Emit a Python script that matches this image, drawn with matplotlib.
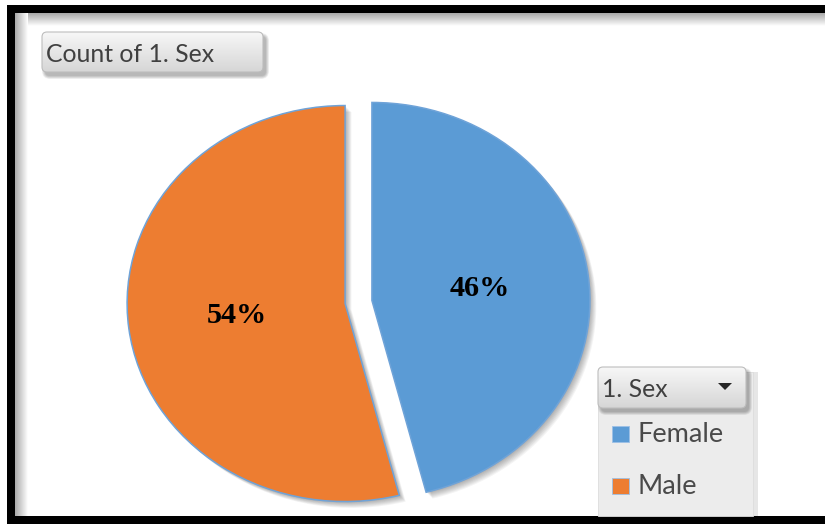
import numpy as np
import matplotlib
matplotlib.use("Agg")
import matplotlib.pyplot as plt
import matplotlib.colors as mcolors
import matplotlib.transforms as mtransforms
from matplotlib.patches import FancyBboxPatch, Rectangle, Polygon, Wedge

# pivot chart data
sexes = ["Female", "Male"]
counts = [46, 54]
slice_colors = ["#5B9BD5", "#ED7D31"]
chart_title = "Count of 1. Sex"
field_name = "1. Sex"

W, H = 825, 524
UI_FONT = "Lato"
TEXT_GREY = "#404040"

fig = plt.figure(figsize=(W / 100, H / 100), dpi=100)
fig.patch.set_facecolor("white")

# background layer in pixel coordinates (y grows downwards)
bg = fig.add_axes([0, 0, 1, 1], zorder=0)
bg.axis("off")


def vgradient(ax, x0, y0, x1, y1, c_top, c_bot, clip=None, z=1):
    c0 = np.array(mcolors.to_rgb(c_top))
    c1 = np.array(mcolors.to_rgb(c_bot))
    t = np.linspace(0, 1, 64)[:, None, None]
    img = c0 + (c1 - c0) * t
    im = ax.imshow(img, extent=(x0, x1, y1, y0), aspect="auto",
                   interpolation="bilinear", zorder=z)
    if clip is not None:
        im.set_clip_path(clip)
    return im


def hgradient(ax, x0, y0, x1, y1, c_left, c_right, z=1):
    c0 = np.array(mcolors.to_rgb(c_left))
    c1 = np.array(mcolors.to_rgb(c_right))
    t = np.linspace(0, 1, 64)[None, :, None]
    img = c0 + (c1 - c0) * t
    ax.imshow(img, extent=(x0, x1, y1, y0), aspect="auto",
              interpolation="bilinear", zorder=z)


def soft_shadow(ax, x0, y0, w, h, r, dx=3, dy=4, z=2):
    for k in range(6):
        ax.add_patch(FancyBboxPatch((x0 + dx - k * 0.6, y0 + dy - k * 0.6),
                                    w + k * 1.2, h + k * 1.2,
                                    boxstyle=f"round,pad=0,rounding_size={r + k * 0.6}",
                                    fc="black", ec="none", alpha=0.05, zorder=z))


def button(ax, x0, y0, x1, y1, label, r=5):
    soft_shadow(ax, x0, y0, x1 - x0, y1 - y0, r, z=3)
    box = FancyBboxPatch((x0, y0), x1 - x0, y1 - y0,
                         boxstyle=f"round,pad=0,rounding_size={r}",
                         fc="none", ec="#bdbdbd", lw=0.8, zorder=5)
    ax.add_patch(box)
    vgradient(ax, x0, y0, x1, y1, "#f7f7f7", "#d6d6d6", clip=box, z=4)
    ax.text(x0 + 4, (y0 + y1) / 2 + 2, label, fontsize=17.8, family=UI_FONT,
            color=TEXT_GREY, ha="left", va="center", zorder=6)


# black frame with its inner shading
bg.add_patch(Rectangle((7, 5), W - 7, 8, fc="black", ec="none", zorder=3))
bg.add_patch(Rectangle((7, 5), 8, H - 5, fc="black", ec="none", zorder=3))
bg.add_patch(Rectangle((7, 516), W - 7, 8, fc="black", ec="none", zorder=3))
vgradient(bg, 15, 13, W, 26, "#a8a8a8", "#ffffff", z=1)
hgradient(bg, 15, 13, 28, 516, "#a8a8a8", "#ffffff", z=1)

# chart title button
button(bg, 42, 32, 263, 72, chart_title)

# legend panel with the field button on top
bg.add_patch(Rectangle((753, 372), 5, 144, fc="#cfcfcf", ec="none", alpha=0.5, zorder=2))
bg.add_patch(Rectangle((598, 372), 155, 144, fc="#ececec", ec="#dcdcdc", lw=0.6, zorder=3))
button(bg, 598, 367, 746, 408, field_name)
bg.add_patch(Polygon([(718, 383), (732, 383), (725, 390)], closed=True,
                     fc="#262626", ec="none", zorder=7))
for i, (name, col) in enumerate(zip(sexes, slice_colors)):
    yc = 434 + i * 52
    bg.add_patch(Rectangle((612, yc - 8), 17, 16, fc=col, ec="#9cc0e6",
                           lw=0.6, zorder=6))
    bg.text(637, yc + 1, name, fontsize=19.5, family=UI_FONT, color="#4a4a4a",
            ha="left", va="center", zorder=6)

bg.set_xlim(0, W)
bg.set_ylim(H, 0)

# pie axes: a unit circle spans 218 x 198 px, centred at (358.5, 302)
rx, ry, cx, cy = 218.0, 198.0, 358.5, 302.0
lim = 1.2
pax = fig.add_axes([(cx - lim * rx) / W, (H - cy - lim * ry) / H,
                    2 * lim * rx / W, 2 * lim * ry / H], zorder=1)
pax.patch.set_alpha(0)

wedges, _, autotexts = pax.pie(
    counts, colors=slice_colors, startangle=90, counterclock=False,
    explode=[0.062, 0.062], autopct="%.0f%%", pctdistance=0.5,
    wedgeprops=dict(edgecolor="#6fa3d8", linewidth=1.1),
    textprops=dict(family="Liberation Serif", fontweight="bold",
                   fontsize=21.8, color="black"))

# soft drop shadow behind each slice
for w in wedges:
    for k in range(1, 9):
        tr = mtransforms.offset_copy(w.get_transform(), fig=fig,
                                     x=k * 0.8, y=-k * 0.8, units="dots")
        sh = Wedge(w.center, w.r, w.theta1, w.theta2, fc="black", ec="none",
                   alpha=0.045, transform=tr, zorder=w.get_zorder() - 1)
        pax.add_patch(sh)

pax.set_aspect("auto")
pax.set_xlim(-lim, lim)
pax.set_ylim(-lim, lim)
pax.axis("off")

fig.savefig("out.png", dpi=100, facecolor="white")
